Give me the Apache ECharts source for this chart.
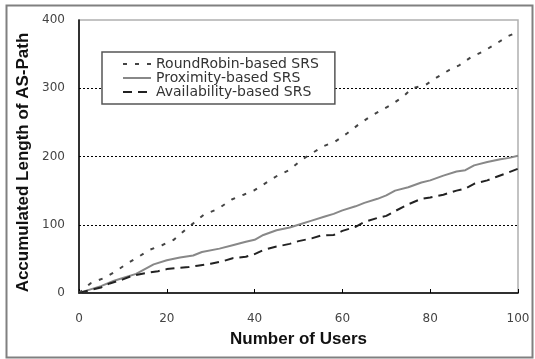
<!DOCTYPE html>
<html><head><meta charset="utf-8">
<script src="https://cdn.jsdelivr.net/npm/echarts@6/dist/echarts.min.js"></script>
<style>html,body{margin:0;padding:0;background:#fff}#c{width:535px;height:359px}</style>
</head><body><div id="c"></div>
<script>
const xTicks = [0, 20, 40, 60, 80, 100];
const yTicks = [0, 100, 200, 300, 400];
const gridValues = [100, 200, 300];
const seriesNames = ["RoundRobin-based SRS", "Proximity-based SRS", "Availability-based SRS"];

const rrUsers = [0, 2.6, 5.7, 8.4, 10.7, 13.8, 16, 18.9, 21.6, 24.3, 26.2, 28.5, 31.6, 34.8, 37.5, 39.8, 42.5, 45.2, 47.9, 50.3, 52.6, 55.7, 58.4, 61.1, 63.5, 66.2, 68.9, 71.2, 73.9, 75.9, 79, 81.3, 84.4, 86.7, 89.4, 92.1, 95.2, 97.6, 99.5];
const rrValues = [0, 14, 22, 32, 42, 54, 63, 70, 78, 93, 103, 115, 123, 137, 144, 150, 161, 172, 180, 193, 203, 215, 222, 234, 246, 258, 268, 276, 288, 300, 305, 315, 327, 334, 346, 354, 366, 376, 381];

const pxUsers = [0, 3, 5, 8, 10, 13, 15, 17, 20, 23, 26, 28, 32, 35, 38, 40, 42, 45, 48, 50, 53, 56, 58, 60, 63, 65, 68, 70, 72, 75, 78, 80, 83, 86, 88, 90, 93, 96, 98, 100];
const pxValues = [0, 6, 10, 18, 22, 28, 35, 42, 48, 52, 55, 60, 65, 70, 75, 78, 85, 92, 96, 100, 106, 112, 116, 121, 127, 132, 138, 143, 150, 155, 162, 165, 172, 178, 180, 187, 192, 196, 198, 201];

const avUsers = [0, 3, 5, 7, 10, 12, 15, 18, 20, 23, 25, 27, 30, 33, 35, 38, 40, 42, 45, 48, 50, 53, 55, 58, 60, 63, 65, 68, 70, 72, 75, 78, 80, 83, 86, 88, 90, 93, 95, 98, 100];
const avValues = [0, 5, 8, 14, 20, 25, 29, 32, 35, 37, 38, 40, 43, 47, 51, 53, 57, 63, 68, 72, 76, 80, 84, 85, 91, 97, 104, 110, 113, 120, 130, 138, 140, 144, 150, 153, 160, 165, 170, 177, 182];

const pairs = (xs, ys) => xs.map((x, i) => [x, ys[i]]);

const chart = echarts.init(document.getElementById('c'), null, {renderer: 'canvas'});
chart.setOption({
  animation: false,
  backgroundColor: '#fff',
  textStyle: {fontFamily: 'DejaVu Sans'},
  graphic: [{
    type: 'rect', left: 4, top: 3, shape: {width: 526, height: 352},
    style: {fill: 'none', stroke: '#808080', lineWidth: 2}, z: 100, silent: true
  }],
  grid: {left: 79, right: 17, top: 20, bottom: 66, show: true, borderColor: '#b0b0b0', borderWidth: 1.5, backgroundColor: 'transparent'},
  legend: {
    orient: 'vertical', left: 102, top: 52,
    data: seriesNames,
    backgroundColor: '#fff', borderColor: '#555', borderWidth: 1.5,
    padding: [5, 16, 5, 20], itemGap: 0, itemWidth: 28, itemHeight: 14,
    itemStyle: {opacity: 0},
    textStyle: {fontFamily: 'DejaVu Sans', fontSize: 14, color: '#333'}
  },
  xAxis: {
    type: 'value', min: 0, max: 100, interval: 20,
    name: 'Number of Users', nameLocation: 'middle', nameGap: 38, nameMoveOverlap: false,
    nameTextStyle: {fontFamily: 'Liberation Sans', fontWeight: 'bold', fontSize: 17, color: '#111'},
    axisLine: {show: true, lineStyle: {color: '#000', width: 1.5}},
    axisTick: {show: true, inside: true, length: 4, lineStyle: {color: '#000'}},
    axisLabel: {margin: 20, fontSize: 12, color: '#444', fontFamily: 'DejaVu Sans'},
    splitLine: {show: false}
  },
  yAxis: {
    type: 'value', min: 0, max: 400, interval: 100,
    name: 'Accumulated Length of AS-Path', nameLocation: 'middle', nameGap: 47, nameMoveOverlap: false,
    nameTextStyle: {fontFamily: 'Liberation Sans', fontWeight: 'bold', fontSize: 17, color: '#111', padding: [0, 0, 0, -12]},
    axisLine: {show: true, lineStyle: {color: '#000', width: 1.5}},
    axisTick: {show: false},
    axisLabel: {margin: 14, fontSize: 12, color: '#444', fontFamily: 'DejaVu Sans'},
    splitLine: {show: false}
  },
  series: [
    {
      name: seriesNames[0], type: 'line', data: pairs(rrUsers, rrValues),
      showSymbol: false, symbol: 'none', z: 3,
      lineStyle: {color: '#444', width: 2, type: [4, 8]}, itemStyle: {color: '#444'},
      markLine: {
        silent: true, symbol: 'none', label: {show: false}, z: 1,
        lineStyle: {color: '#000', width: 1, type: [2, 2]},
        data: gridValues.map(v => ({yAxis: v}))
      }
    },
    {
      name: seriesNames[1], type: 'line', data: pairs(pxUsers, pxValues),
      showSymbol: false, symbol: 'none', z: 3,
      lineStyle: {color: '#888', width: 2}, itemStyle: {color: '#888'}
    },
    {
      name: seriesNames[2], type: 'line', data: pairs(avUsers, avValues),
      showSymbol: false, symbol: 'none', z: 3,
      lineStyle: {color: '#222', width: 2, type: [9, 6]}, itemStyle: {color: '#222'}
    }
  ]
});
</script></body></html>
